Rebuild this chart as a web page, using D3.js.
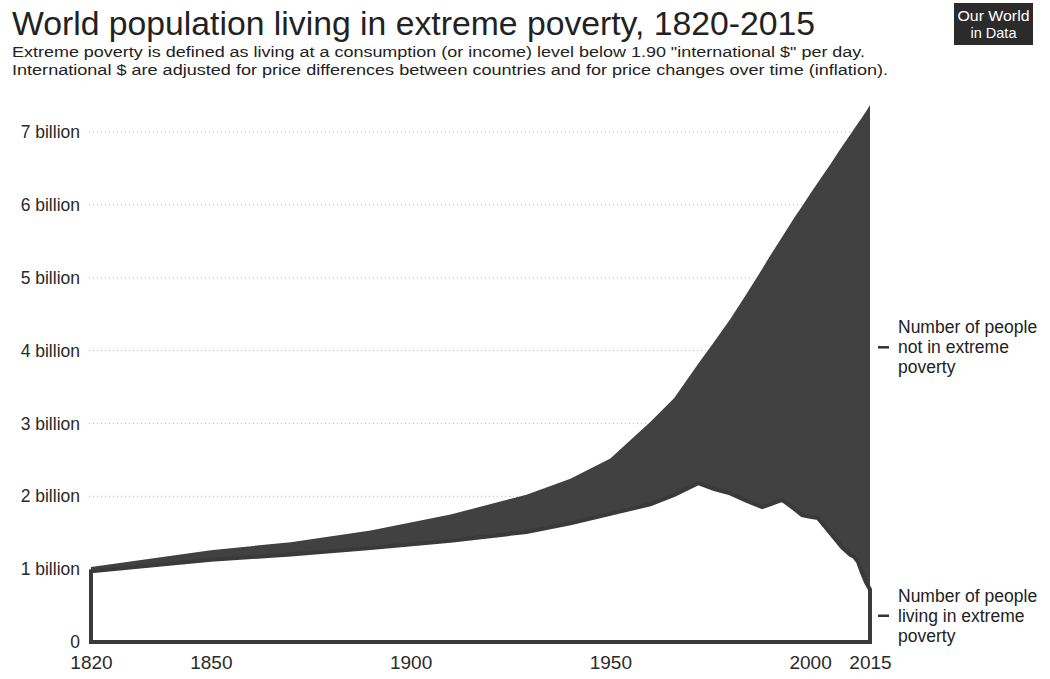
<!DOCTYPE html>
<head>
    <meta charset="utf-8">
    <script src="https://d3js.org/d3.v7.min.js"></script>
    <style>
      body { margin: 0; background: #fff; }
      text { font-family: "Liberation Sans", Arial, sans-serif; fill: #222; }
      .grid line { stroke: #b8b8b8; stroke-width: 1; stroke-dasharray: 1,3; }
      .axis path { display: none; }
      .axis text { fill: #2a2a2a; }
    </style>
</head>
<body>
    <svg id="chart" width="1050" height="679"></svg>

    <script>
      // values, in billions
      var years = [1820, 1850, 1870, 1890, 1910, 1929, 1940, 1950, 1960, 1966, 1972, 1976, 1980, 1984, 1988, 1990, 1993, 1996, 1998, 2000, 2002, 2005, 2008, 2010, 2011, 2012, 2013, 2014, 2015];
      var worldPop = [1.03, 1.26, 1.37, 1.53, 1.75, 2.02, 2.24, 2.52, 3.02, 3.35, 3.82, 4.12, 4.43, 4.77, 5.12, 5.30, 5.56, 5.82, 5.98, 6.15, 6.31, 6.55, 6.80, 6.96, 7.04, 7.12, 7.20, 7.28, 7.37];
      var extremePoor = [0.97, 1.13, 1.20, 1.29, 1.39, 1.51, 1.63, 1.76, 1.89, 2.02, 2.18, 2.10, 2.04, 1.94, 1.85, 1.89, 1.95, 1.83, 1.74, 1.72, 1.70, 1.50, 1.30, 1.20, 1.17, 1.10, 0.95, 0.82, 0.72];

      var yTicks = [0, 1, 2, 3, 4, 5, 6, 7];
      var yTickLabels = ["0", "1 billion", "2 billion", "3 billion", "4 billion", "5 billion", "6 billion", "7 billion"];
      var xTicks = [1820, 1850, 1900, 1950, 2000, 2015];

      var seriesLabels = [
        ["Number of people", "not in extreme", "poverty"],
        ["Number of people", "living in extreme", "poverty"]
      ];

      var data = years.map(function(y, i) {
        return { year: y, total: worldPop[i], poor: extremePoor[i] };
      });

      var svg = d3.select('#chart');

      var x = d3.scaleLinear().domain([1820, 2015]).range([91, 870]);
      var y = d3.scaleLinear().domain([0, 7]).range([642, 132]);

      // header
      svg.append('text')
          .attr('x', 12).attr('y', 35)
          .style('font-size', '34px')
          .attr('textLength', 803).attr('lengthAdjust', 'spacingAndGlyphs')
          .text('World population living in extreme poverty, 1820-2015');

      svg.append('text')
          .attr('x', 12).attr('y', 57)
          .style('font-size', '14px')
          .attr('textLength', 853).attr('lengthAdjust', 'spacingAndGlyphs')
          .text('Extreme poverty is defined as living at a consumption (or income) level below 1.90 "international $" per day.');

      svg.append('text')
          .attr('x', 12).attr('y', 75)
          .style('font-size', '14px')
          .attr('textLength', 876).attr('lengthAdjust', 'spacingAndGlyphs')
          .text('International $ are adjusted for price differences between countries and for price changes over time (inflation).');

      // logo
      var logo = svg.append('g');
      logo.append('rect')
          .attr('x', 954).attr('y', 3).attr('width', 79).attr('height', 42)
          .attr('fill', '#2b2b2b');
      logo.append('text')
          .attr('x', 993.5).attr('y', 21).attr('text-anchor', 'middle')
          .style('font-size', '14.5px').style('fill', '#fff')
          .attr('textLength', 72).attr('lengthAdjust', 'spacingAndGlyphs')
          .text('Our World');
      logo.append('text')
          .attr('x', 993.5).attr('y', 38).attr('text-anchor', 'middle')
          .style('font-size', '14.5px').style('fill', '#fff')
          .text('in Data');

      // gridlines
      svg.append('g')
          .attr('class', 'grid')
          .selectAll('line')
          .data(yTicks.slice(1))
          .enter().append('line')
          .attr('x1', x(1820) - 2)
          .attr('x2', x(2015))
          .attr('y1', function(d) { return y(d); })
          .attr('y2', function(d) { return y(d); });

      // areas
      var totalArea = d3.area()
          .x(function(d) { return x(d.year); })
          .y0(y(0))
          .y1(function(d) { return y(d.total); });

      var poorArea = d3.area()
          .x(function(d) { return x(d.year); })
          .y0(y(0))
          .y1(function(d) { return y(d.poor); });

      svg.append('path')
          .datum(data)
          .attr('d', totalArea)
          .attr('fill', '#414141');

      svg.append('path')
          .datum(data)
          .attr('d', poorArea)
          .attr('fill', '#fff')
          .attr('stroke', '#3a3a3a')
          .attr('stroke-width', 4)
          .attr('stroke-linejoin', 'miter');

      // axes
      var yAxis = d3.axisLeft(y)
          .tickValues(yTicks)
          .tickSize(0)
          .tickPadding(11)
          .tickFormat(function(d, i) { return yTickLabels[i]; });

      svg.append('g')
          .attr('class', 'y axis')
          .attr('transform', 'translate(' + x(1820) + ',0)')
          .call(yAxis)
          .selectAll('text')
          .style('font-size', '17.5px')
          .style('font-family', '"Liberation Sans", Arial, sans-serif');

      var xAxis = d3.axisBottom(x)
          .tickValues(xTicks)
          .tickSize(0)
          .tickPadding(14)
          .tickFormat(function(d) { return d; });

      svg.append('g')
          .attr('class', 'x axis')
          .attr('transform', 'translate(0,' + y(0) + ')')
          .call(xAxis)
          .selectAll('text')
          .style('font-size', '19px')
          .style('font-family', '"Liberation Sans", Arial, sans-serif');

      // series labels at the right end, dash level with the middle line
      var last = data[data.length - 1];
      var labelY = [y((last.total + last.poor) / 2), y(last.poor / 2)];

      seriesLabels.forEach(function(lines, k) {
        svg.append('line')
            .attr('x1', 878).attr('x2', 889)
            .attr('y1', labelY[k]).attr('y2', labelY[k])
            .attr('stroke', '#333').attr('stroke-width', 2.5);

        var t = svg.append('text')
            .attr('y', labelY[k] - 20)
            .style('font-size', '17.5px');
        lines.forEach(function(line, j) {
          t.append('tspan')
              .attr('x', 898)
              .attr('dy', j === 0 ? '0.35em' : 20)
              .text(line);
        });
      });
    </script>
</body>
